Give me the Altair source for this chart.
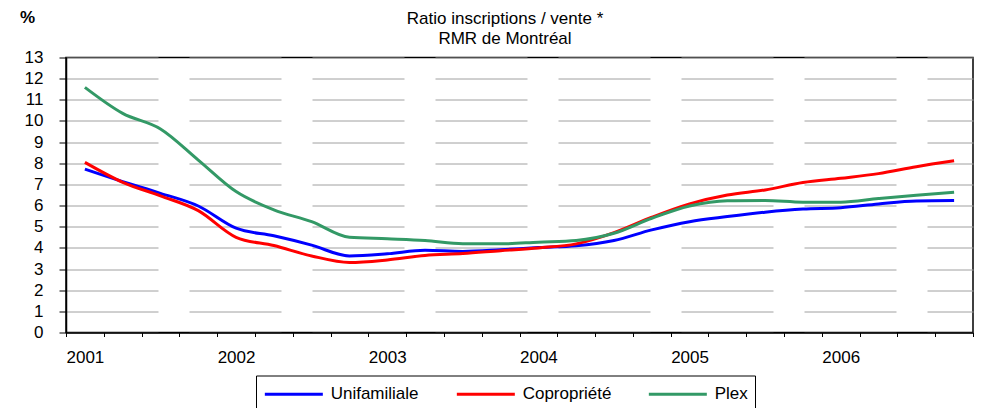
import json
import altair as alt
import pandas as pd

# ---- data (quarterly, 2001 T1 .. 2006 T4) ----
quarters = [
    "2001-T1", "2001-T2", "2001-T3", "2001-T4",
    "2002-T1", "2002-T2", "2002-T3", "2002-T4",
    "2003-T1", "2003-T2", "2003-T3", "2003-T4",
    "2004-T1", "2004-T2", "2004-T3", "2004-T4",
    "2005-T1", "2005-T2", "2005-T3", "2005-T4",
    "2006-T1", "2006-T2", "2006-T3", "2006-T4",
]
years = ["2001", "2002", "2003", "2004", "2005", "2006"]
series_names = ["Unifamiliale", "Copropriété", "Plex"]
series_colors = ["#0000FF", "#FF0000", "#339966"]

unifamiliale = [7.72, 7.13, 6.58, 5.98, 4.93, 4.57, 4.13, 3.62, 3.72, 3.89, 3.83, 3.91,
                4.02, 4.10, 4.35, 4.85, 5.24, 5.48, 5.69, 5.84, 5.90, 6.08, 6.22, 6.24]
copropriete = [8.04, 7.10, 6.46, 5.76, 4.50, 4.11, 3.62, 3.31, 3.43, 3.64, 3.73, 3.87,
               4.00, 4.19, 4.72, 5.45, 6.08, 6.50, 6.74, 7.09, 7.29, 7.51, 7.84, 8.12]
plex = [11.59, 10.36, 9.62, 8.15, 6.66, 5.80, 5.24, 4.50, 4.43, 4.35, 4.20, 4.19,
        4.27, 4.35, 4.69, 5.40, 5.98, 6.23, 6.24, 6.16, 6.16, 6.33, 6.49, 6.63]

title_lines = ["Ratio inscriptions / vente *", "RMR de Montréal"]
y_unit = "%"
y_ticks = list(range(0, 14))

rows = []
for name, vals in zip(series_names, [unifamiliale, copropriete, plex]):
    for i, (q, v) in enumerate(zip(quarters, vals)):
        rows.append({"idx": i, "trimestre": q, "value": v, "series": name})
df = pd.DataFrame(rows)

FONT = "Liberation Sans"
W, H = 907, 275
n = len(quarters)
bounds = [i - 0.5 for i in range(n + 1)]
label_expr = (
    "((datum.value + 0.5) % 4 == 0 && datum.value < " + str(n - 1) + ") ? "
    + json.dumps(years) + "[(datum.value + 0.5) / 4] : ''"
)

x_axis = alt.Axis(
    values=bounds, labelExpr=label_expr, labelOffset=W / n / 2,
    tickSize=4, tickColor="black", tickWidth=1,
    domainColor="black", domainWidth=1.5,
    labelPadding=13, labelFontSize=17, labelFont=FONT, labelColor="black",
    labelOverlap=False, labelFlush=False, labelBound=False,
    grid=False, title=None,
)
y_axis = alt.Axis(
    values=y_ticks, tickSize=7, tickColor="black", tickWidth=1,
    domainColor="black", domainWidth=1.5,
    labelPadding=16, labelFontSize=17, labelFont=FONT, labelColor="black",
    labelOverlap=False, labelFlush=False,
    grid=True, gridColor="#a0a0a0", gridWidth=1, gridDash=[92, 31],
    title=None,
)

# legend line symbol: starts at the entry's left edge, 6 radii long
sym_r = 58 / 6.0
legend = alt.Legend(
    orient="none", legendX=190, legendY=318, direction="horizontal",
    title=None, symbolType="M-1,0H5", symbolSize=(2 * sym_r) ** 2,
    symbolStrokeWidth=3, symbolFillColor="transparent",
    labelFontSize=17, labelFont=FONT, labelColor="black",
    labelOffset=58 + 6 - 2 * sym_r,
    columnPadding=30, gridAlign="all", padding=7,
    strokeColor="black", fillColor="white",
)

lines = alt.Chart(df).mark_line(strokeWidth=3, interpolate="monotone").encode(
    x=alt.X("idx:Q", scale=alt.Scale(domain=[-0.5, n - 0.5], nice=False, zero=False), axis=x_axis),
    y=alt.Y("value:Q", scale=alt.Scale(domain=[0, 13], nice=False), axis=y_axis),
    color=alt.Color(
        "series:N",
        scale=alt.Scale(domain=series_names, range=series_colors),
        sort=series_names,
        legend=legend,
    ),
    order=alt.Order("idx:Q"),
)

title_layer = alt.Chart(pd.DataFrame({"k": [0]})).mark_text(
    text=title_lines, font=FONT, fontSize=17, lineHeight=20.5,
    align="center", baseline="alphabetic", color="black",
).encode(x=alt.value(439), y=alt.value(-34))

unit_layer = alt.Chart(pd.DataFrame({"k": [0]})).mark_text(
    text=y_unit, font=FONT, fontSize=17, fontWeight="bold",
    align="center", baseline="alphabetic", color="black",
).encode(x=alt.value(-38.5), y=alt.value(-34.2))

chart = alt.layer(lines, title_layer, unit_layer).properties(
    width=W, height=H,
    padding={"left": 58, "top": 49.5, "right": 1, "bottom": 75.5},
    autosize=alt.AutoSizeParams(type="none"),
    background="white",
).configure_view(stroke="black", strokeWidth=1.5)

chart.save("out.html", embed_options={"renderer": "svg", "actions": False})
